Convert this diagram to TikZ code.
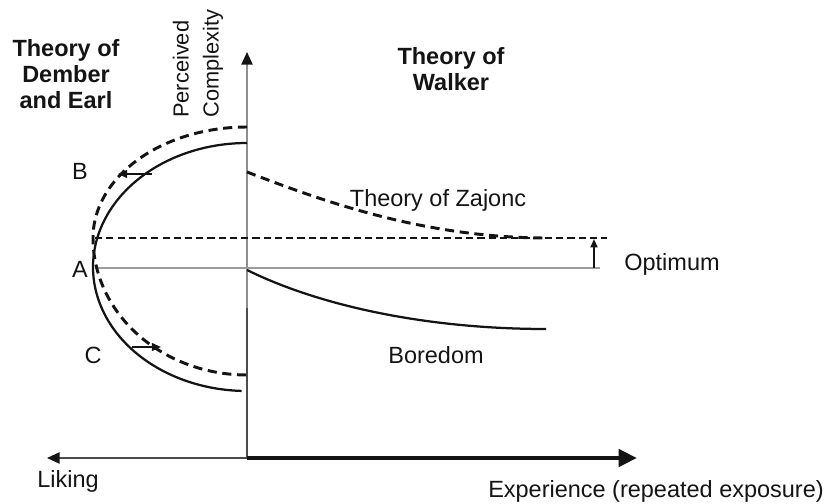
\documentclass[tikz,border=0pt]{standalone}
\usepackage{fontspec}
\setmainfont{Liberation Sans}
\usepackage{tikz}
\usetikzlibrary{positioning,arrows.meta,calc}
\definecolor{ink}{HTML}{141414}
\definecolor{axislt}{HTML}{8E8E8E}
\definecolor{axisdk}{HTML}{4C4C4C}
\definecolor{guide}{HTML}{9C9C9C}

\begin{document}
\begin{tikzpicture}[x=0.025cm,y=-0.025cm,
  every node/.style={font=\fontsize{16.7}{18.5}\selectfont,text=ink,inner sep=0pt},
  heading/.style={font=\fontsize{16.7}{18.5}\selectfont\bfseries,align=center},
  solidcurve/.style={line width=1.6pt,draw=ink},
  dashcurve/.style={line width=2.1pt,draw=ink,dash pattern=on 6.5pt off 4pt},
  optline/.style={line width=1.2pt,draw=ink,dash pattern=on 5pt off 3pt},
  shiftarrow/.style={line width=1.3pt,draw=ink,-{Triangle[length=6.5pt,width=5.5pt]}}]
  \useasboundingbox (0,0) rectangle (827,504);

  % axes
  \coordinate (O) at (247,458);
  \coordinate (ymid) at (247,308);
  \coordinate (ytop) at (247,52);
  \coordinate (xleft) at (47,458);
  \coordinate (xright) at (637,458);
  \draw[line width=1.2pt,axisdk] (O) -- (ymid);
  \draw[line width=1.1pt,axislt,-{Triangle[length=9pt,width=8pt,color=ink]}] (ymid) -- (ytop);
  \draw[line width=1.2pt,axisdk,-{Triangle[length=9pt,width=8pt,color=ink]}] (O) -- (xleft);
  \draw[line width=3.5pt,ink,-{Triangle[length=13pt,width=12pt]}] (O) -- (xright);

  % reference lines
  \coordinate (a0) at (95,268);
  \coordinate (a1) at (600,268);
  \coordinate (p0) at (95,238);
  \coordinate (p1) at (607,238);
  \draw[line width=1pt,guide] (a0) -- (a1);
  \draw[optline] (p0) -- (p1);
  \draw[line width=1.3pt,ink,-{Triangle[length=6pt,width=5pt]}] (594,268) -- (594,239);

  % Dember and Earl
  \draw[solidcurve] plot[domain=0:178,samples=80,smooth] ({247-154*sin(\x)},{267-124*cos(\x)});
  \draw[dashcurve] plot[domain=0:90,samples=40,smooth] ({247-154*sin(\x)},{238-111*cos(\x)})
    -- plot[domain=90:180,samples=40,smooth] ({247-154*sin(\x)},{238-137*cos(\x)});
  \draw[shiftarrow] (152,174) -- (118,174);
  \draw[shiftarrow] (132,347) -- (161,347);

  % Walker
  \draw[dashcurve] (247,172) .. controls (320,200) and (420,237) .. (543,238);
  \draw[solidcurve] (247,270) .. controls (322,307) and (430,329) .. (546,329);

  % labels
  \node[heading] (dember) at (66,74) {Theory of\\Dember\\and Earl};
  \node[heading] (walker) at (451,69) {Theory of\\Walker};
  \node[rotate=90,anchor=west,align=left,font=\fontsize{15.5}{21.3}\selectfont] (complexity) at (198,118) {Perceived\\Complexity};
  \node[anchor=base] (zajonc) at (438,207) {Theory of Zajonc};
  \node[anchor=base] (boredom) at (436,363) {Boredom};
  \node[anchor=base] (optimum) at (672,270) {Optimum};
  \node[anchor=base] (liking) at (68,487) {Liking};
  \node[anchor=base] (experience) at (656,497) {Experience (repeated exposure)};
  \node[anchor=base] (lblB) at (80,180) {B};
  \node[anchor=base] (lblA) at (80,277) {A};
  \node[anchor=base] (lblC) at (93,363) {C};
\end{tikzpicture}
\end{document}
